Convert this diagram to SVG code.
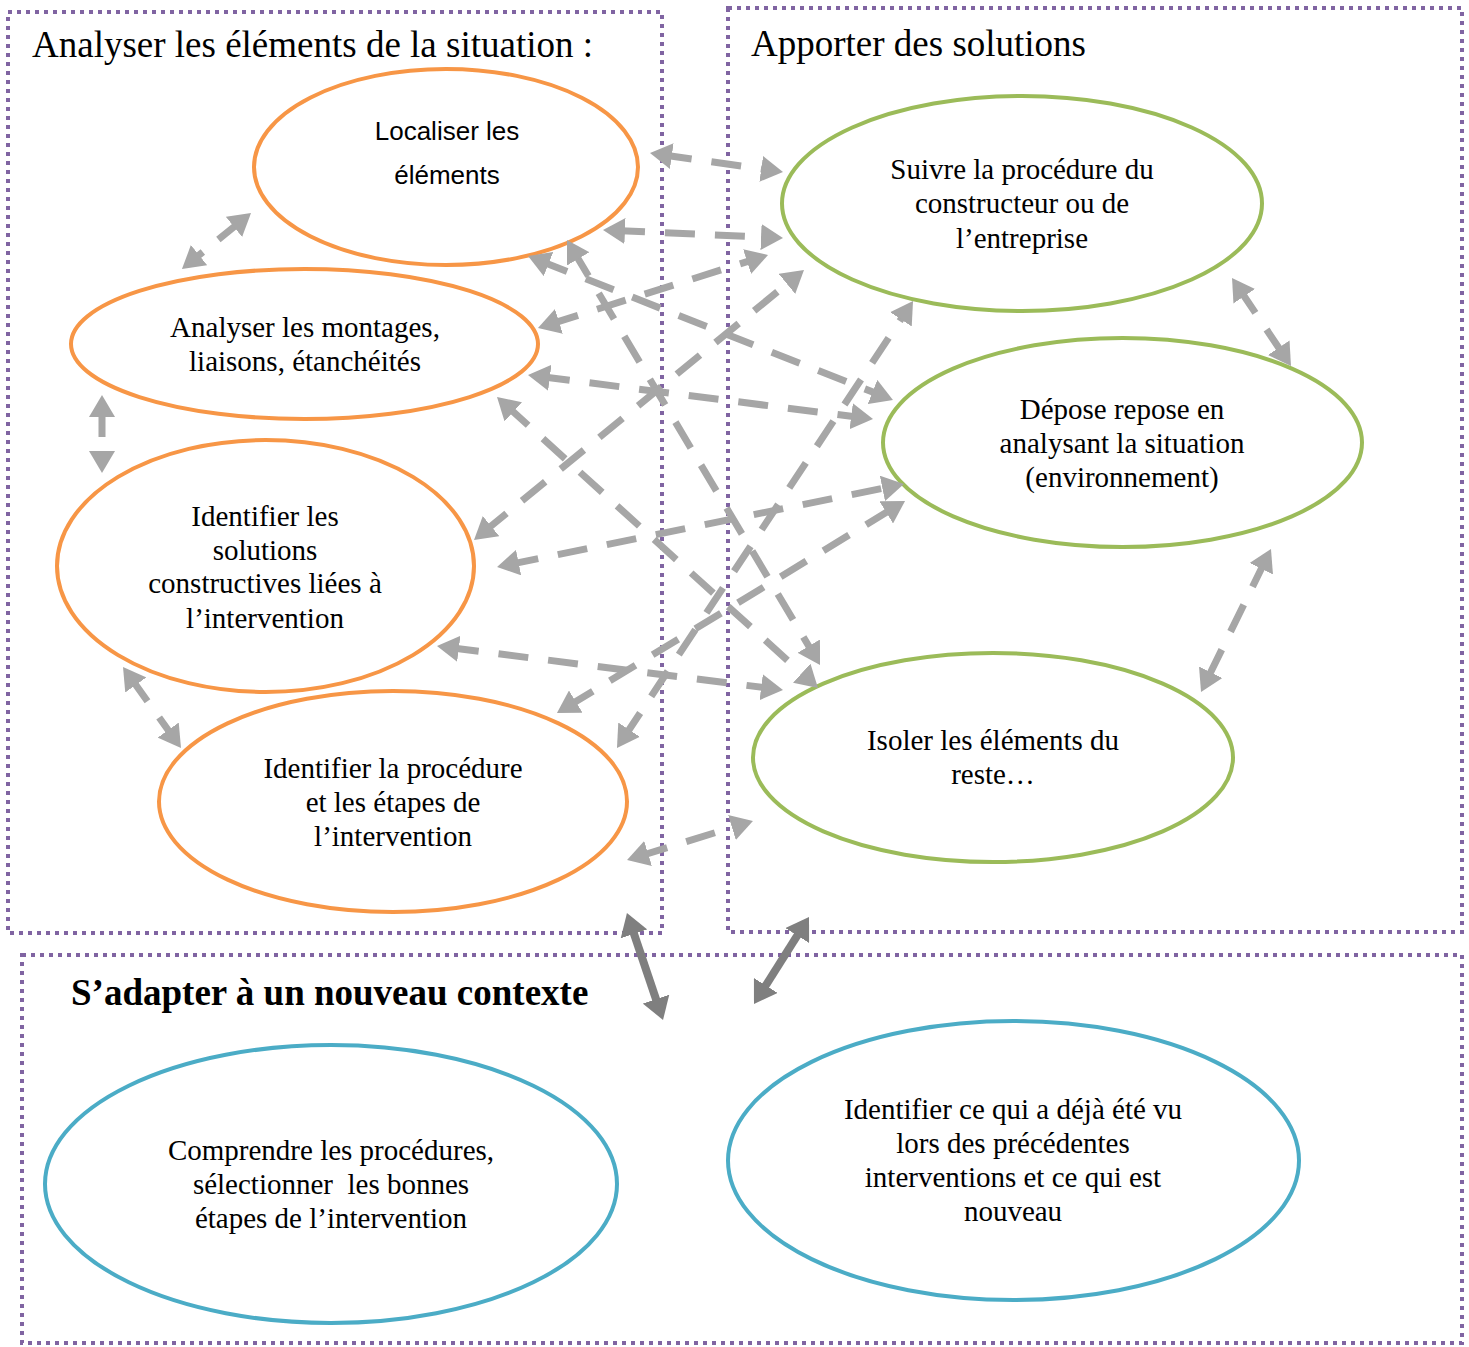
<svg xmlns="http://www.w3.org/2000/svg" width="1469" height="1347" viewBox="0 0 1469 1347">
<style>
.box{fill:none;stroke:#8064A2;stroke-width:4;stroke-dasharray:4 5}
.or{fill:none;stroke:#F79646;stroke-width:4}
.gr{fill:none;stroke:#9BBB59;stroke-width:4}
.bl{fill:none;stroke:#4BACC6;stroke-width:4}
.t{font-family:"Liberation Serif","Times New Roman",serif;font-size:29px;fill:#000;text-anchor:middle}
.s{font-family:"Liberation Sans",Arial,sans-serif;font-size:26px;fill:#000;text-anchor:middle}
.h{font-family:"Liberation Serif","Times New Roman",serif;font-size:37px;fill:#000}
.d{stroke:#A6A6A6;stroke-width:7;stroke-dasharray:30 20;fill:none;marker-start:url(#ah);marker-end:url(#ah)}
.k{stroke:#7F7F7F;stroke-width:8;fill:none;marker-start:url(#ak);marker-end:url(#ak)}
</style>
<defs>
<marker id="ah" markerUnits="userSpaceOnUse" viewBox="0 0 22 26" markerWidth="22" markerHeight="26" refX="10" refY="13" orient="auto-start-reverse"><path d="M0,0 L22,13 L0,26 z" fill="#A6A6A6"/></marker>
<marker id="ak" markerUnits="userSpaceOnUse" viewBox="0 0 22 28" markerWidth="22" markerHeight="28" refX="10" refY="14" orient="auto-start-reverse"><path d="M0,0 L22,14 L0,28 z" fill="#7F7F7F"/></marker>
</defs>
<rect width="1469" height="1347" fill="#fff"/>
<g id="boxes">
<rect class="box" x="8" y="12" width="654" height="921"/>
<rect class="box" x="728" y="8" width="734" height="924"/>
<rect class="box" x="22" y="955" width="1440" height="388"/>
<text class="h" x="32" y="57">Analyser les éléments de la situation :</text>
<text class="h" x="751" y="56">Apporter des solutions</text>
<text class="h" x="71" y="1005" font-weight="bold">S’adapter à un nouveau contexte</text>
</g>
<g id="n-localiser"><ellipse class="or" cx="446" cy="167" rx="192" ry="98"/><text class="s" x="447" y="140">Localiser les</text><text class="s" x="447" y="184">éléments</text></g>
<g id="n-analyser"><ellipse class="or" cx="304.5" cy="344" rx="233.5" ry="75"/><text class="t" x="305" y="337">Analyser les montages,</text><text class="t" x="305" y="371">liaisons, étanchéités</text></g>
<g id="n-solutions"><ellipse class="or" cx="265.5" cy="566" rx="208.5" ry="126"/><text class="t" x="265" y="526">Identifier les</text><text class="t" x="265" y="560">solutions</text><text class="t" x="265" y="593">constructives liées à</text><text class="t" x="265" y="628">l’intervention</text></g>
<g id="n-procedure"><ellipse class="or" cx="393" cy="801.5" rx="234" ry="110.5"/><text class="t" x="393" y="778">Identifier la procédure</text><text class="t" x="393" y="812">et les étapes de</text><text class="t" x="393" y="846">l’intervention</text></g>
<g id="n-suivre"><ellipse class="gr" cx="1022" cy="203.5" rx="240" ry="107.5"/><text class="t" x="1022" y="179">Suivre la procédure du</text><text class="t" x="1022" y="213">constructeur ou de</text><text class="t" x="1022" y="248">l’entreprise</text></g>
<g id="n-depose"><ellipse class="gr" cx="1122.5" cy="442.5" rx="239.5" ry="104.5"/><text class="t" x="1122" y="419">Dépose repose en</text><text class="t" x="1122" y="453">analysant la situation</text><text class="t" x="1122" y="487">(environnement)</text></g>
<g id="n-isoler"><ellipse class="gr" cx="993" cy="757.5" rx="240" ry="104.5"/><text class="t" x="993" y="750">Isoler les éléments du</text><text class="t" x="993" y="784">reste…</text></g>
<g id="n-comprendre"><ellipse class="bl" cx="331" cy="1184" rx="286" ry="139"/><text class="t" x="331" y="1160">Comprendre les procédures,</text><text class="t" x="331" y="1194" xml:space="preserve">sélectionner  les bonnes</text><text class="t" x="331" y="1228">étapes de l’intervention</text></g>
<g id="n-identifier"><ellipse class="bl" cx="1013.5" cy="1160.5" rx="285.5" ry="139.5"/><text class="t" x="1013" y="1119">Identifier ce qui a déjà été vu</text><text class="t" x="1013" y="1153">lors des précédentes</text><text class="t" x="1013" y="1187">interventions et ce qui est</text><text class="t" x="1013" y="1221">nouveau</text></g>
<g id="connectors">
<line class="d" x1="661.9" y1="154.7" x2="771.1" y2="170.3"/>
<line class="d" x1="615" y1="230.5" x2="771" y2="237.5"/>
<line class="d" x1="549.4" y1="324.4" x2="756.6" y2="258.6"/>
<line class="d" x1="539.2" y1="260.4" x2="881.8" y2="395.6"/>
<line class="d" x1="573.1" y1="250.3" x2="813.9" y2="654.7"/>
<line class="d" x1="539.9" y1="376.5" x2="861.1" y2="417.5"/>
<line class="d" x1="505.9" y1="405.1" x2="809.1" y2="679.9"/>
<line class="d" x1="483.3" y1="532.4" x2="794.7" y2="277.6"/>
<line class="d" x1="508.8" y1="564.6" x2="892.2" y2="486.4"/>
<line class="d" x1="448.9" y1="647.5" x2="771.1" y2="688.5"/>
<line class="d" x1="623.6" y1="738" x2="906.4" y2="311"/>
<line class="d" x1="567.2" y1="706.8" x2="894.8" y2="507.2"/>
<line class="d" x1="638.5" y1="856.5" x2="741.5" y2="824.5"/>
<line class="d" x1="241.7" y1="220.6" x2="191.3" y2="261.4"/>
<line class="d" x1="102" y1="407" x2="102" y2="461"/>
<line class="d" x1="130" y1="676.8" x2="174" y2="738.2"/>
<line class="d" x1="1238.7" y1="288" x2="1284.3" y2="356"/>
<line class="d" x1="1265.7" y1="559.8" x2="1206.3" y2="681.2"/>
<line class="k" x1="630.8" y1="924.4" x2="659.2" y2="1008.6"/>
<line class="k" x1="802.6" y1="927.1" x2="760.4" y2="993.9"/>
</g>
</svg>
